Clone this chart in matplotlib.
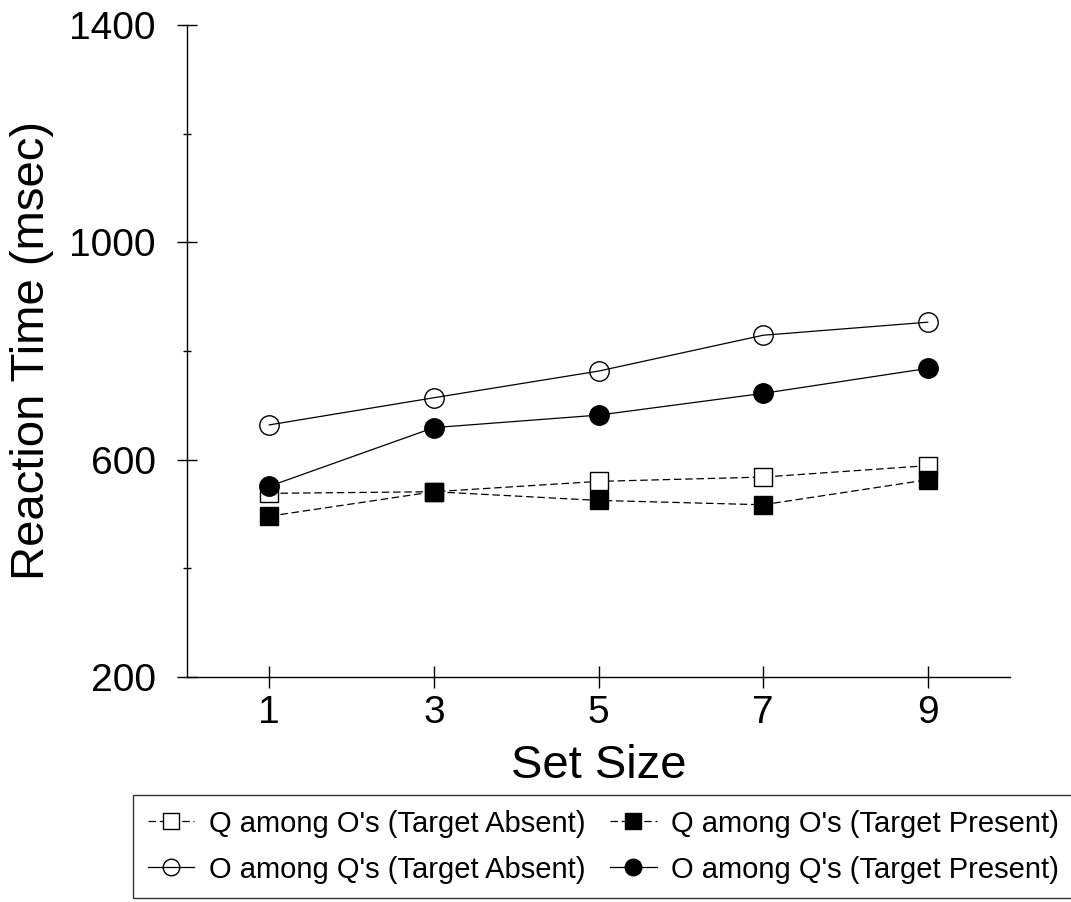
import matplotlib
matplotlib.use('Agg')
import matplotlib.pyplot as plt
from matplotlib.ticker import FixedLocator

plt.rcParams['font.family'] = ['Liberation Sans', 'DejaVu Sans']

set_size = [1, 3, 5, 7, 9]

# mean RT (msec) per condition
q_absent = [538, 541, 560, 568, 589]
q_present = [496, 541, 525, 517, 563]
o_absent = [664, 714, 763, 829, 853]
o_present = [551, 659, 682, 722, 768]

labels = ["Q among O's (Target Absent)", "Q among O's (Target Present)",
          "O among Q's (Target Absent)", "O among Q's (Target Present)"]

y_major = [200, 600, 1000, 1400]
y_minor = [400, 800, 1200]

fig = plt.figure(figsize=(10.71, 9.02), dpi=100)
ax = fig.add_axes([187 / 1071, 1 - 677 / 902, 823 / 1071, 652 / 902])

dash = (0, (6, 3))
lw = 0.9
ms = 14

l1, = ax.plot(set_size, q_absent, color='black', linestyle=dash, linewidth=lw,
              marker='s', markersize=ms - 1, markerfacecolor='white',
              markeredgecolor='black', markeredgewidth=1.0)
l2, = ax.plot(set_size, q_present, color='black', linestyle=dash, linewidth=lw,
              marker='s', markersize=ms - 1, markerfacecolor='black',
              markeredgecolor='black')
l3, = ax.plot(set_size, o_absent, color='black', linestyle='-', linewidth=lw,
              marker='o', markersize=ms, markerfacecolor='none',
              markeredgecolor='black', markeredgewidth=1.0)
l4, = ax.plot(set_size, o_present, color='black', linestyle='-', linewidth=lw,
              marker='o', markersize=ms, markerfacecolor='black',
              markeredgecolor='black')

ax.set_xlim(0, 10)
ax.set_ylim(200, 1400)
ax.set_xticks(set_size)
ax.yaxis.set_major_locator(FixedLocator(y_major))
ax.yaxis.set_minor_locator(FixedLocator(y_minor))

for side in ('top', 'right'):
    ax.spines[side].set_visible(False)
for side in ('left', 'bottom'):
    ax.spines[side].set_linewidth(1.0)

ax.tick_params(axis='y', which='major', direction='inout', length=15, width=1.0,
               labelsize=28, pad=15)
ax.tick_params(axis='y', which='minor', direction='inout', length=6, width=1.0)
ax.tick_params(axis='x', which='major', direction='inout', length=16, width=1.0,
               labelsize=28, pad=5)

ax.set_ylabel('Reaction Time (msec)', fontsize=34, va='center')
ax.yaxis.set_label_coords(-0.188, 0.5)
ax.set_xlabel('Set Size', fontsize=34, va='center')
ax.xaxis.set_label_coords(0.5, -0.137)

leg = fig.legend([l1, l3, l2, l4], [labels[0], labels[2], labels[1], labels[3]],
                 ncol=2, loc='upper left', bbox_to_anchor=(133 / 1071, 1 - 795 / 902),
                 borderaxespad=0, fontsize=21, frameon=True, fancybox=False,
                 edgecolor='black', handlelength=1.6, handletextpad=0.5,
                 columnspacing=0.85, labelspacing=0.62, borderpad=0.5,
                 markerscale=0.85)
leg.get_frame().set_linewidth(1.0)

fig.savefig('out.png', dpi=100)
